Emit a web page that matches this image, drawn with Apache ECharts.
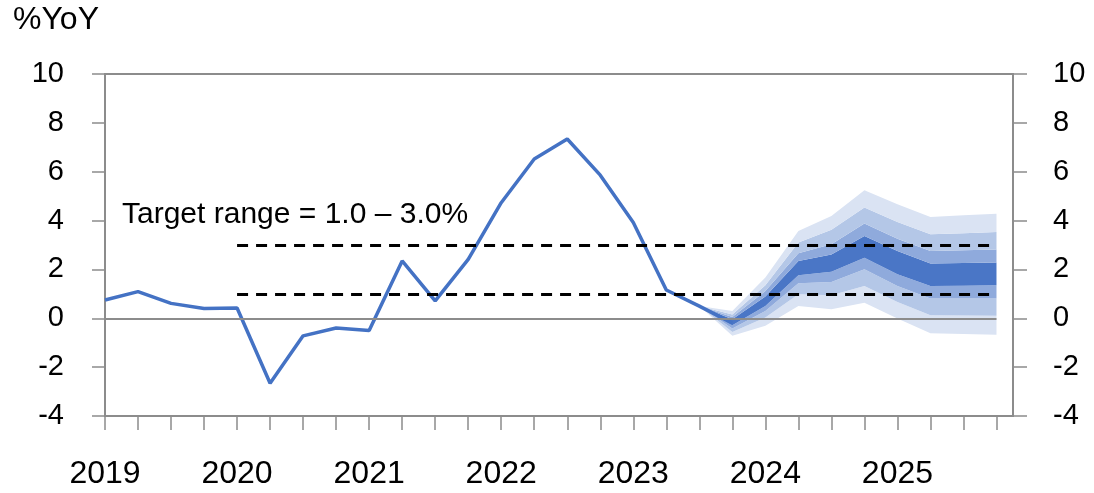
<!DOCTYPE html>
<html lang="en">
<head>
  <meta charset="UTF-8">
  <title>Headline inflation fan chart</title>
  <script src="https://cdn.jsdelivr.net/npm/echarts@6/dist/echarts.min.js"></script>
  <style>
    html, body { margin: 0; padding: 0; background: #fff; }
    #chart { width: 1094px; height: 493px; }
  </style>
</head>
<body>
<div id="chart"></div>
<script>
  // quarters 2019Q1 .. 2025Q4 (x index 0..27)
  const quarters = [
    '2019Q1','2019Q2','2019Q3','2019Q4','2020Q1','2020Q2','2020Q3','2020Q4',
    '2021Q1','2021Q2','2021Q3','2021Q4','2022Q1','2022Q2','2022Q3','2022Q4',
    '2023Q1','2023Q2','2023Q3','2023Q4','2024Q1','2024Q2','2024Q3','2024Q4',
    '2025Q1','2025Q2','2025Q3','2025Q4'
  ];
  const yearLabels = ['2019', '2020', '2021', '2022', '2023', '2024', '2025'];

  // actual %YoY (2019Q1 .. 2023Q4)
  const actual = [0.75, 1.09, 0.61, 0.40, 0.42, -2.66, -0.72, -0.40,
                  -0.50, 2.35, 0.71, 2.41, 4.73, 6.52, 7.34, 5.86,
                  3.92, 1.16, 0.50, -0.20];

  // fan chart bands, 2023Q3 .. 2025Q4
  const fanStart = 18;
  const lo90 = [0.50, -0.72, -0.31, 0.50, 0.37, 0.64, -0.01, -0.61, -0.64, -0.67];
  const lo70 = [0.50, -0.56, 0.03, 0.98, 0.94, 1.32, 0.67, 0.12, 0.11, 0.10];
  const lo50 = [0.50, -0.42, 0.30, 1.43, 1.49, 2.01, 1.32, 0.81, 0.81, 0.81];
  const lo30 = [0.50, -0.29, 0.50, 1.76, 1.90, 2.48, 1.80, 1.32, 1.33, 1.35];
  const hi30 = [0.50, -0.04, 0.89, 2.35, 2.61, 3.37, 2.75, 2.24, 2.26, 2.28];
  const hi50 = [0.50, 0.05, 1.12, 2.66, 3.03, 3.88, 3.26, 2.75, 2.78, 2.82];
  const hi70 = [0.50, 0.16, 1.35, 3.10, 3.62, 4.53, 3.94, 3.44, 3.48, 3.53];
  const hi90 = [0.50, 0.30, 1.67, 3.57, 4.19, 5.24, 4.67, 4.15, 4.22, 4.28];

  // target range
  const targetLow = 1.0;
  const targetHigh = 3.0;
  const targetFrom = 4;   // 2020Q1
  const targetTo = 27;    // 2025Q4

  const axisGray = '#8c8c8c';
  const fontFam = '"Liberation Sans", Arial, sans-serif';

  const quarterIdx = quarters.map((q, i) => i);
  const yearIdx = yearLabels.map((y, i) => i * 4);

  // stacked fan: base + increments
  // data stored as [value, x] so the value dimension is the one that gets stacked
  const bands = [lo90, lo70, lo50, lo30, hi30, hi50, hi70, hi90];
  const bandColors = [null, '#dae3f3', '#b4c7e7', '#8faadc', '#4a76c6', '#8faadc', '#b4c7e7', '#dae3f3'];
  const fanSeries = bands.map((b, k) => {
    const vals = b.map((v, i) => {
      const d = k === 0 ? v : v - bands[k - 1][i];
      return [+d.toFixed(3), fanStart + i];
    });
    const s = {
      name: 'fan' + k,
      type: 'line',
      stack: 'fan',
      stackStrategy: 'all',
      encode: { x: 1, y: 0 },
      data: vals,
      symbol: 'none',
      lineStyle: { width: 0, opacity: 0 },
      z: 1
    };
    if (k > 0) s.areaStyle = { color: bandColors[k], opacity: 1 };
    return s;
  });

  const chart = echarts.init(document.getElementById('chart'));

  const option = {
    animation: false,
    grid: {
      left: 105, right: 81, top: 74, bottom: 77,
      show: true, borderColor: axisGray, borderWidth: 2
    },
    graphic: [
      {
        type: 'text', x: 13, y: 20,
        style: { text: '%YoY', fill: '#000', font: '32px ' + fontFam, verticalAlign: 'middle' }
      },
      {
        type: 'text', x: 122, y: 215,
        style: { text: 'Target range = 1.0 \u2013 3.0%', fill: '#000', font: '30px ' + fontFam, verticalAlign: 'middle' }
      }
    ],
    xAxis: {
      type: 'value',
      min: 0,
      max: 27.5,
      interval: 1,
      axisLine: { show: true, onZero: false, lineStyle: { color: axisGray, width: 2 } },
      axisTick: { show: true, length: 14, customValues: quarterIdx, lineStyle: { color: axisGray, width: 1.5 } },
      axisLabel: {
        customValues: yearIdx,
        formatter: v => yearLabels[v / 4],
        color: '#000', fontSize: 32, fontFamily: fontFam, margin: 42
      },
      splitLine: { show: false }
    },
    yAxis: [
      {
        type: 'value', min: -4, max: 10, interval: 2, position: 'left',
        axisLine: { show: true, onZero: false, lineStyle: { color: axisGray, width: 2 } },
        axisTick: { show: true, length: 13, lineStyle: { color: axisGray, width: 1.5 } },
        axisLabel: { color: '#000', fontSize: 29, fontFamily: fontFam, margin: 41 },
        splitLine: { show: false }
      },
      {
        type: 'value', min: -4, max: 10, interval: 2, position: 'right',
        axisLine: { show: true, onZero: false, lineStyle: { color: axisGray, width: 2 } },
        axisTick: { show: true, length: 14, lineStyle: { color: axisGray, width: 1.5 } },
        axisLabel: { color: '#000', fontSize: 29, fontFamily: fontFam, margin: 40 },
        splitLine: { show: false }
      }
    ],
    series: fanSeries.concat([
      {
        name: 'Headline inflation',
        type: 'line',
        data: actual.map((v, i) => [i, v]),
        symbol: 'none',
        lineStyle: { color: '#4472c4', width: 3.5 },
        z: 3,
        markLine: {
          silent: true,
          symbol: 'none',
          label: { show: false },
          data: [
            [{ coord: [0, 0], lineStyle: { color: axisGray, width: 2, type: 'solid' } },
             { coord: [quarters.length - 1, 0] }],
            [{ coord: [targetFrom, targetLow], lineStyle: { color: '#000', width: 3, type: [11, 8] } },
             { coord: [targetTo, targetLow] }],
            [{ coord: [targetFrom, targetHigh], lineStyle: { color: '#000', width: 3, type: [11, 8] } },
             { coord: [targetTo, targetHigh] }]
          ]
        }
      }
    ])
  };

  chart.setOption(option);
</script>
</body>
</html>
